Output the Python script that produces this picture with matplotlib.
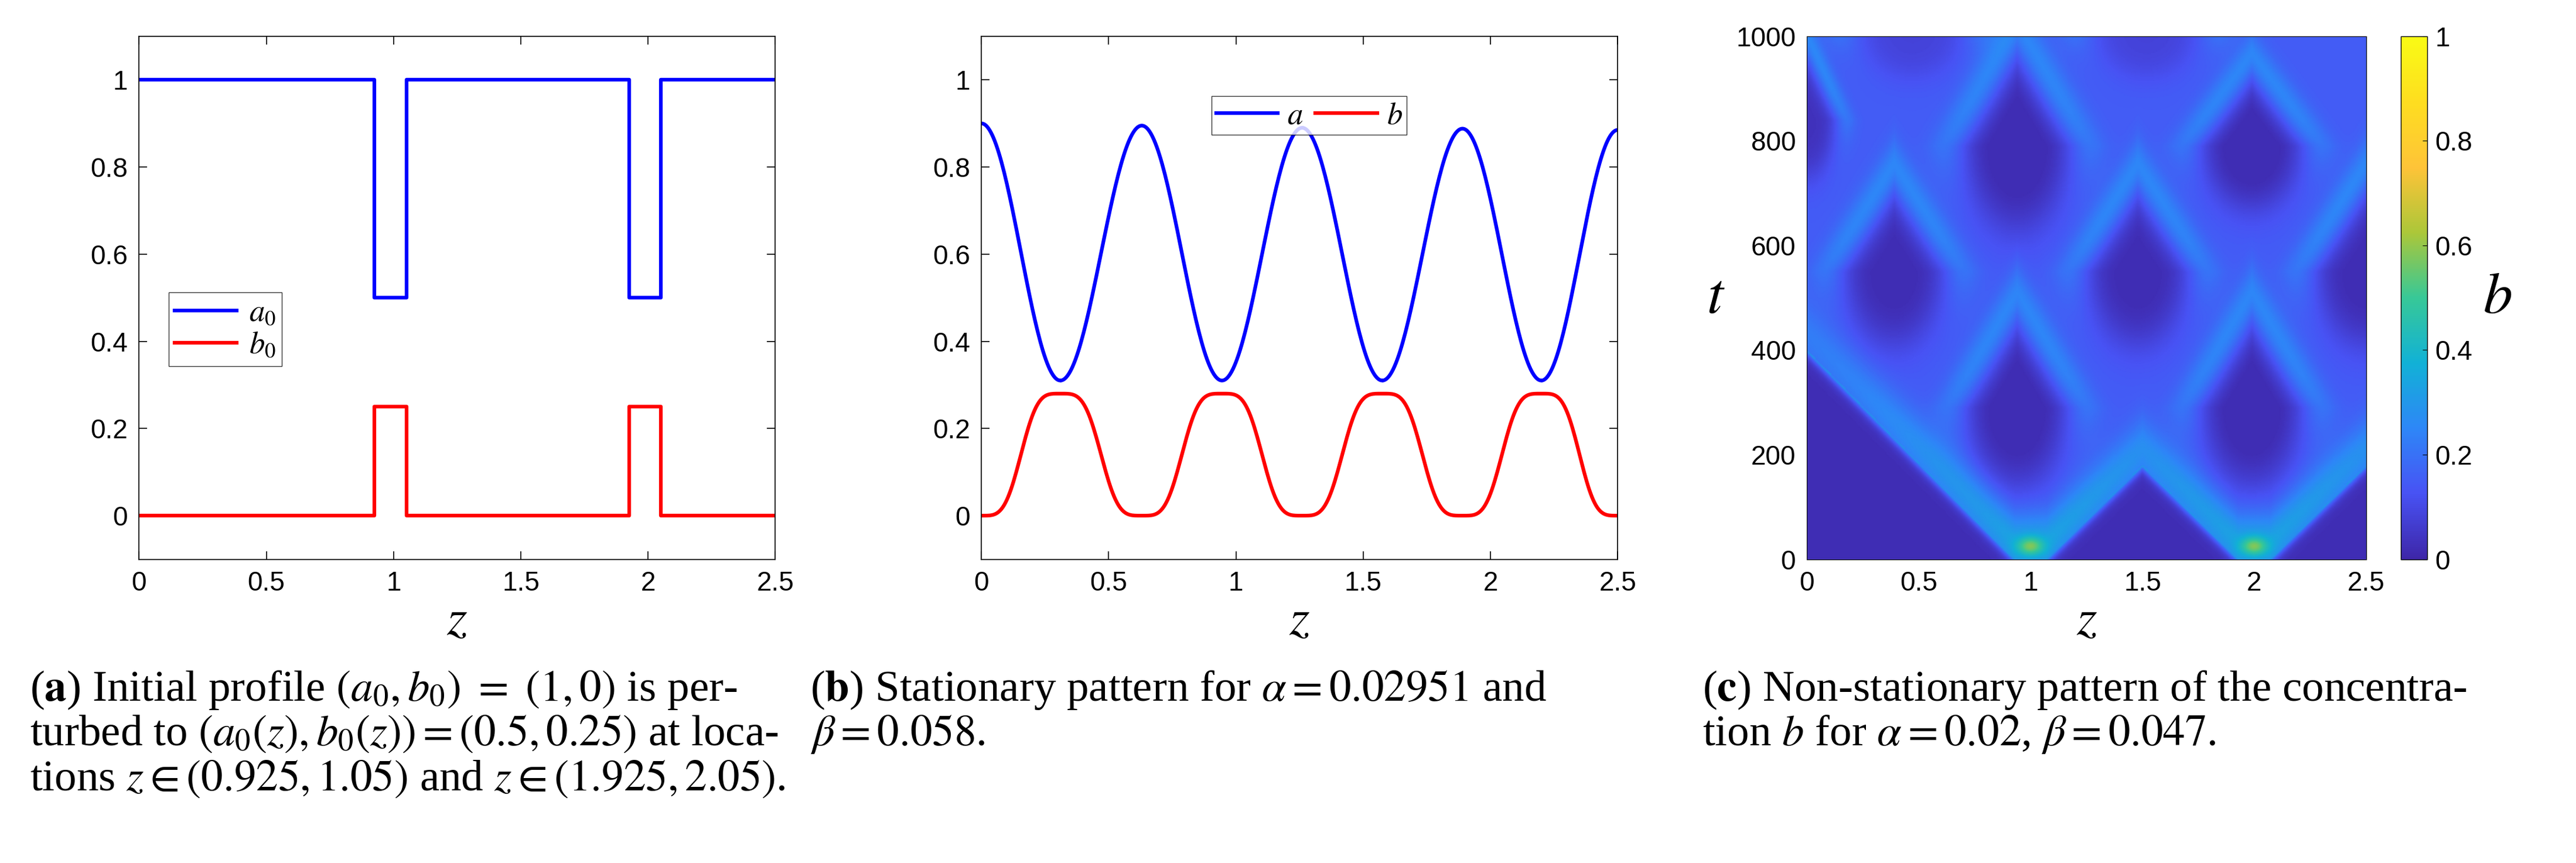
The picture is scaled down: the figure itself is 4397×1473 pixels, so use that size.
import numpy as np
import matplotlib
matplotlib.use("Agg")
import matplotlib.pyplot as plt
from matplotlib.colors import LinearSegmentedColormap

plt.rcParams['mathtext.fontset'] = 'stix'
plt.rcParams['font.family'] = ['Liberation Sans', 'DejaVu Sans']

# ---- panel (a) data ----
a0_z = [0, 0.925, 0.925, 1.05, 1.05, 1.925, 1.925, 2.05, 2.05, 2.5]
a0_v = [1, 1, 0.5, 0.5, 1, 1, 0.5, 0.5, 1, 1]
b0_v = [0, 0, 0.25, 0.25, 0, 0, 0.25, 0.25, 0, 0]

# ---- panel (b) data: extrema ----
a_ext_z = [0.0, 0.31, 0.63, 0.945, 1.26, 1.575, 1.89, 2.20, 2.5]
a_ext_v = [0.90, 0.31, 0.895, 0.31, 0.89, 0.31, 0.888, 0.31, 0.885]
b_ext_z = [0.0, 0.31, 0.63, 0.945, 1.26, 1.575, 1.89, 2.20, 2.5]
b_ext_v = [0.0, 0.28, 0.0, 0.28, 0.0, 0.28, 0.0, 0.28, 0.0]

# ---- panel (c) features ----
dia_z = [0.94, 1.99, 0.39, 1.48, 2.50, 0.94, 1.99, 0.00, 0.47, 1.52]
dia_t = [290, 290, 550, 550, 550, 790, 790, 840, 1010, 1010]
dia_w = [0.21, 0.21, 0.21, 0.21, 0.21, 0.22, 0.21, 0.12, 0.22, 0.22]
dia_h = [150, 150, 140, 140, 140, 160, 120, 110, 90, 90]
dia_d = [0.15, 0.15, 0.14, 0.14, 0.14, 0.15, 0.15, 0.12, 0.07, 0.07]
env_z = [0.0, 0.93, 1.07, 1.5, 1.93, 2.07, 2.5]
env_t = [400, 0, 0, 180, 0, 0, 180]
spot_z = [1.0, 2.0]
spot_t = [25, 25]

def smooth_between(xs, vs, power=1, n=60):
    X, Y = [], []
    for i in range(len(xs) - 1):
        u = np.linspace(0, 1, n)
        s = 0.5 - 0.5 * np.cos(np.pi * u)
        for _ in range(power - 1):
            s = 0.5 - 0.5 * np.cos(np.pi * s)
        X.append(xs[i] + (xs[i + 1] - xs[i]) * u)
        Y.append(vs[i] + (vs[i + 1] - vs[i]) * s)
    return np.concatenate(X), np.concatenate(Y)

W, H = 4397, 1473
fig = plt.figure(figsize=(W / 100, H / 100), dpi=100)

bot, hgt = 0.352, 0.606
tick_fs = 33
lab_fs = 64

def style(ax):
    ax.set_xlim(0, 2.5)
    ax.set_xticks([0, 0.5, 1, 1.5, 2, 2.5])
    ax.set_xticklabels(['0', '0.5', '1', '1.5', '2', '2.5'])
    ax.tick_params(labelsize=tick_fs, direction='in', length=10, width=1.2, top=True, right=True, pad=14)
    ax.set_xlabel('$z$', fontsize=lab_fs, labelpad=0)
    for s in ax.spines.values():
        s.set_linewidth(1.2)

leg_fs = 38
# (a)
ax1 = fig.add_axes([0.054, bot, 0.247, hgt])
ax1.plot(a0_z, a0_v, color='#0000ff', lw=4.5, label='$a_0$')
ax1.plot(a0_z, b0_v, color='#ff0000', lw=4.5, label='$b_0$')
ax1.set_ylim(-0.1, 1.1)
ax1.set_yticks([0, 0.2, 0.4, 0.6, 0.8, 1])
ax1.set_yticklabels(['0', '0.2', '0.4', '0.6', '0.8', '1'])
style(ax1)
ax1.legend(loc='upper left', bbox_to_anchor=(0.022, 0.54), fontsize=leg_fs, handlelength=2.0,
           fancybox=False, edgecolor='black', borderpad=0.2, labelspacing=0.1, handletextpad=0.4)

# (b)
ax2 = fig.add_axes([0.381, bot, 0.247, hgt])
za, va = smooth_between(a_ext_z, a_ext_v, 1)
zb, vb = smooth_between(b_ext_z, b_ext_v, 2)
ax2.plot(za, va, color='#0000ff', lw=4.5, label='$a$')
ax2.plot(zb, vb, color='#ff0000', lw=4.5, label='$b$')
ax2.set_ylim(-0.1, 1.1)
ax2.set_yticks([0, 0.2, 0.4, 0.6, 0.8, 1])
ax2.set_yticklabels(['0', '0.2', '0.4', '0.6', '0.8', '1'])
style(ax2)
ax2.legend(loc='upper center', bbox_to_anchor=(0.515, 0.915), ncol=2, fontsize=leg_fs, handlelength=2.0,
           fancybox=False, edgecolor='black', borderpad=0.15, columnspacing=0.4, handletextpad=0.3)

# (c)
parula = LinearSegmentedColormap.from_list('parula', [
    (0.0, (0.2422, 0.1504, 0.6603)), (0.125, (0.2810, 0.3228, 0.9579)),
    (0.25, (0.1786, 0.5289, 0.9682)), (0.375, (0.0689, 0.6948, 0.8394)),
    (0.5, (0.2161, 0.7843, 0.5923)), (0.625, (0.6720, 0.7793, 0.2227)),
    (0.75, (0.9970, 0.7659, 0.2199)), (0.875, (0.9955, 0.8690, 0.1250)),
    (1.0, (0.9769, 0.9839, 0.0805))])

zz = np.linspace(0, 2.5, 500)
tt = np.linspace(0, 1000, 500)
Z, T = np.meshgrid(zz, tt)
F = np.full_like(Z, 0.15)
for zc, tc, w, h, d in zip(dia_z, dia_t, dia_w, dia_h, dia_d):
    dz = np.abs(Z - zc) / w
    dt = (T - tc) / h
    r = np.where(dt > 0, dz + dt, np.sqrt(dz ** 2 + dt ** 2))
    F -= d / (1 + np.exp((r - 0.95) / 0.2))
    F += 0.11 * np.exp(-((r - 1.45) / 0.38) ** 2) * (1 / (1 + np.exp(-(dt + 0.1) / 0.25)))
E = np.interp(Z, env_z, env_t)
s = T - E
F = F + 0.2 * np.exp(-((s - 35) / 60) ** 2) * np.exp(-T / 450)
F = np.where(s < 0, 0.02 + 0.3 * np.exp(s / 10), F)
for zc, tc in zip(spot_z, spot_t):
    F += 0.25 * np.exp(-((Z - zc) / 0.06) ** 2 - ((T - tc) / 18) ** 2)
F = np.clip(F, 0.02, 1)

ax3 = fig.add_axes([0.7015, bot, 0.217, hgt])
im = ax3.pcolormesh(Z, T, F, cmap=parula, vmin=0, vmax=1, shading='gouraud')
ax3.set_xlim(0, 2.5)
ax3.set_ylim(0, 1000)
ax3.set_xticks([0, 0.5, 1, 1.5, 2, 2.5])
ax3.set_xticklabels(['0', '0.5', '1', '1.5', '2', '2.5'])
ax3.set_yticks([0, 200, 400, 600, 800, 1000])
ax3.tick_params(labelsize=tick_fs, direction='out', length=0, pad=14)
ax3.set_xlabel('$z$', fontsize=lab_fs, labelpad=0)
ax3.set_ylabel('$t$', fontsize=lab_fs + 8, rotation=0, labelpad=25, va='center')
cax = fig.add_axes([0.932, bot, 0.0102, hgt])
cb = fig.colorbar(im, cax=cax)
cb.set_ticks([0, 0.2, 0.4, 0.6, 0.8, 1])
cb.set_ticklabels(['0', '0.2', '0.4', '0.6', '0.8', '1'])
cb.ax.tick_params(labelsize=tick_fs, direction='in', length=6, pad=10)
cb.set_label('$b$', fontsize=lab_fs + 8, rotation=0, labelpad=30, va='center')
cb.outline.set_linewidth(1)

# captions
cfs = 54
cap = dict(fontsize=cfs, family=['Liberation Serif', 'DejaVu Serif'], ha='left', va='center')
fig.text(0.0115, 0.200, r'($\mathbf{a}$) Initial profile $(a_0, b_0)\ =\ (1, 0)$ is per-', **cap)
fig.text(0.0115, 0.149, r'turbed to $(a_0(z), b_0(z)) = (0.5, 0.25)$ at loca-', **cap)
fig.text(0.0115, 0.097, r'tions $z \in (0.925, 1.05)$ and $z \in (1.925, 2.05)$.', **cap)
fig.text(0.3145, 0.200, r'($\mathbf{b}$) Stationary pattern for $\alpha = 0.02951$ and', **cap)
fig.text(0.3145, 0.149, r'$\beta = 0.058$.', **cap)
fig.text(0.661, 0.200, r'($\mathbf{c}$) Non-stationary pattern of the concentra-', **cap)
fig.text(0.661, 0.149, r'tion $b$ for $\alpha = 0.02$, $\beta = 0.047$.', **cap)

fig.savefig('out.png', dpi=100)
